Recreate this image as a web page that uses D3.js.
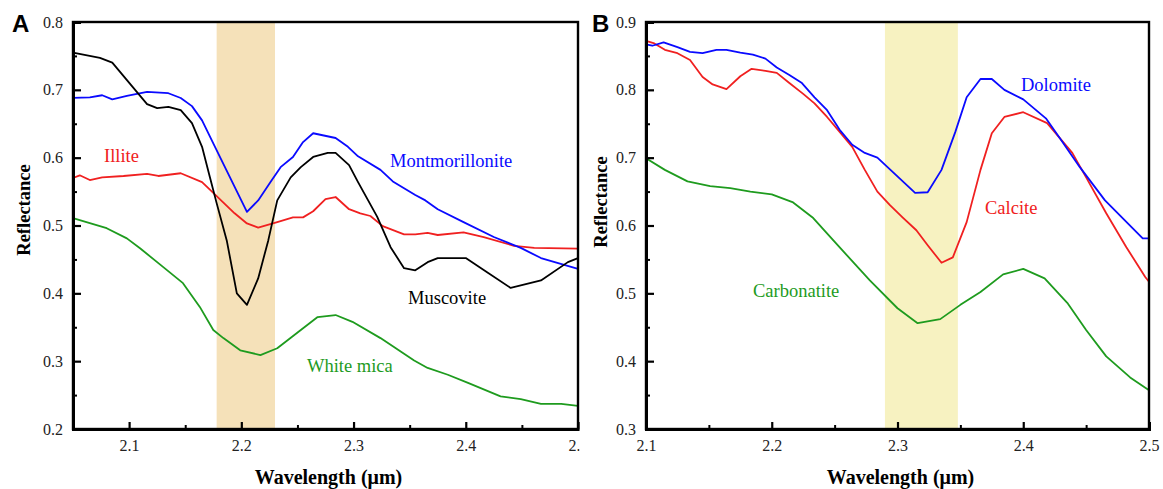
<!DOCTYPE html>
<html>
<head>
<meta charset="utf-8">
<script src="https://cdn.jsdelivr.net/npm/d3@7"></script>
<style>
  html, body { margin: 0; padding: 0; background: #fff; }
  svg { display: block; }
  text { font-family: "Liberation Serif", "Times New Roman", serif; }
  .tick text { font-family: "Liberation Serif", "Times New Roman", serif; font-size: 16px; fill: #222; }
</style>
</head>
<body>
<svg id="chart" width="1163" height="489"></svg>
<script>
// ---------- Panel A data ----------
const muscoviteX = [2.05,2.074,2.085,2.116,2.125,2.135,2.146,2.156,2.165,2.172,2.178,2.187,2.196,2.205,2.215,2.224,2.232,2.244,2.253,2.264,2.277,2.284,2.296,2.304,2.321,2.333,2.345,2.355,2.366,2.375,2.400,2.420,2.440,2.467,2.491,2.5];
const muscoviteY = [0.755,0.747,0.740,0.679,0.673,0.675,0.670,0.651,0.616,0.571,0.533,0.478,0.400,0.383,0.422,0.478,0.537,0.571,0.586,0.601,0.607,0.607,0.589,0.564,0.513,0.468,0.437,0.434,0.446,0.452,0.452,0.430,0.408,0.419,0.446,0.452];

const montX = [2.05,2.065,2.076,2.085,2.098,2.116,2.135,2.146,2.156,2.165,2.175,2.205,2.215,2.226,2.235,2.246,2.255,2.264,2.284,2.295,2.304,2.324,2.335,2.355,2.364,2.375,2.398,2.425,2.449,2.467,2.5];
const montY = [0.688,0.689,0.692,0.686,0.691,0.697,0.695,0.688,0.676,0.655,0.621,0.520,0.537,0.564,0.586,0.601,0.623,0.636,0.629,0.616,0.602,0.582,0.565,0.545,0.537,0.524,0.505,0.483,0.467,0.452,0.436];

const illiteX = [2.05,2.056,2.065,2.076,2.095,2.116,2.126,2.146,2.165,2.175,2.194,2.205,2.215,2.232,2.246,2.255,2.264,2.275,2.284,2.296,2.306,2.315,2.326,2.345,2.355,2.366,2.375,2.398,2.416,2.443,2.461,2.5];
const illiteY = [0.570,0.574,0.567,0.571,0.573,0.576,0.573,0.577,0.564,0.548,0.518,0.503,0.497,0.505,0.512,0.512,0.521,0.539,0.542,0.524,0.518,0.514,0.499,0.487,0.487,0.489,0.486,0.490,0.483,0.470,0.467,0.466];

const whiteMicaX = [2.05,2.080,2.098,2.110,2.128,2.148,2.163,2.175,2.184,2.199,2.217,2.232,2.253,2.268,2.284,2.299,2.324,2.354,2.366,2.384,2.402,2.431,2.449,2.467,2.485,2.5];
const whiteMicaY = [0.511,0.496,0.481,0.466,0.442,0.415,0.380,0.346,0.334,0.316,0.309,0.319,0.346,0.365,0.368,0.358,0.334,0.301,0.290,0.280,0.268,0.248,0.244,0.237,0.237,0.234];

// ---------- Panel B data ----------
const dolomiteX = [2.1,2.105,2.114,2.125,2.135,2.145,2.156,2.164,2.175,2.185,2.195,2.204,2.214,2.224,2.234,2.244,2.254,2.264,2.274,2.284,2.314,2.324,2.335,2.346,2.355,2.366,2.375,2.385,2.400,2.418,2.429,2.445,2.465,2.495,2.5];
const dolomiteY = [0.867,0.865,0.870,0.863,0.856,0.854,0.859,0.859,0.855,0.852,0.846,0.833,0.822,0.810,0.789,0.770,0.741,0.719,0.707,0.700,0.648,0.649,0.682,0.738,0.789,0.816,0.816,0.800,0.786,0.758,0.729,0.686,0.637,0.581,0.581];

const calciteX = [2.1,2.106,2.115,2.125,2.135,2.145,2.153,2.164,2.175,2.184,2.195,2.204,2.214,2.225,2.234,2.244,2.254,2.264,2.274,2.284,2.294,2.304,2.315,2.324,2.335,2.344,2.355,2.366,2.375,2.385,2.400,2.419,2.439,2.450,2.466,2.482,2.497,2.5];
const calciteY = [0.872,0.869,0.859,0.854,0.844,0.819,0.808,0.801,0.820,0.831,0.828,0.825,0.810,0.794,0.780,0.760,0.738,0.716,0.682,0.650,0.630,0.612,0.593,0.571,0.545,0.553,0.605,0.682,0.736,0.760,0.767,0.751,0.707,0.671,0.618,0.568,0.524,0.517];

const carbonatiteX = [2.1,2.115,2.133,2.151,2.167,2.183,2.2,2.217,2.233,2.249,2.278,2.3,2.316,2.334,2.35,2.366,2.384,2.400,2.417,2.435,2.450,2.466,2.485,2.5];
const carbonatiteY = [0.699,0.682,0.665,0.658,0.655,0.650,0.646,0.634,0.611,0.578,0.519,0.478,0.456,0.462,0.483,0.502,0.528,0.536,0.522,0.486,0.446,0.407,0.376,0.357];

// ---------- Axes ticks / bands ----------
const ticksAX = [2.1, 2.2, 2.3, 2.4, 2.5];
const minorAX = [2.15, 2.25, 2.35, 2.45];
const ticksAY = [0.2, 0.3, 0.4, 0.5, 0.6, 0.7, 0.8];
const minorAY = [0.25, 0.35, 0.45, 0.55, 0.65, 0.75];
const ticksBX = [2.1, 2.2, 2.3, 2.4, 2.5];
const minorBX = [2.15, 2.25, 2.35, 2.45];
const ticksBY = [0.3, 0.4, 0.5, 0.6, 0.7, 0.8, 0.9];
const minorBY = [0.35, 0.45, 0.55, 0.65, 0.75, 0.85];
const bandA = [2.178, 2.23];
const bandB = [2.29, 2.348];

const C = { black: "#000000", blue: "#0a0aff", red: "#f02020", green: "#1e9b1e" };

const svg = d3.select("#chart");
const serif = '"Liberation Serif", "Times New Roman", serif';

function panel(opts) {
  const { x0, x1, y0, y1, xDom, yDom, xt, xm, yt, ym, band, bandColor, series, labels, letter, letterX, ylabX, ylabY, clipLast } = opts;
  const x = d3.scaleLinear().domain(xDom).range([x0, x1]);
  const y = d3.scaleLinear().domain(yDom).range([y1, y0]);
  const g = svg.append("g");

  // band
  g.append("rect")
    .attr("x", x(band[0])).attr("y", y0)
    .attr("width", x(band[1]) - x(band[0])).attr("height", y1 - y0)
    .attr("fill", bandColor);

  // lines
  const line = d3.line().x(d => x(d[0])).y(d => y(d[1]));
  series.forEach(s => {
    const pts = s.xs.map((v, i) => [v, s.ys[i]]);
    g.append("path").datum(pts)
      .attr("d", line).attr("fill", "none")
      .attr("stroke", s.color).attr("stroke-width", 1.8)
      .attr("stroke-linejoin", "round");
  });

  // frame
  g.append("rect").attr("x", x0).attr("y", y0)
    .attr("width", x1 - x0).attr("height", y1 - y0)
    .attr("fill", "none").attr("stroke", "#000").attr("stroke-width", 2.4);

  // bottom axis (ticks inward)
  const xAxis = d3.axisBottom(x).tickValues(xt).tickSize(-7).tickPadding(11)
    .tickFormat(d3.format(".1f"));
  const xg = g.append("g").attr("transform", `translate(0,${y1})`).call(xAxis);
  xg.select(".domain").attr("stroke-width", 3);
  xg.selectAll(".tick line").attr("stroke-width", 2.2);
  const xmg = g.append("g").attr("transform", `translate(0,${y1})`)
    .call(d3.axisBottom(x).tickValues(xm).tickSize(-4).tickFormat(""));
  xmg.select(".domain").remove();
  xmg.selectAll(".tick line").attr("stroke-width", 2);
  if (clipLast) {
    const id = "clip" + letter;
    svg.append("clipPath").attr("id", id).attr("clipPathUnits", "userSpaceOnUse")
      .append("rect")
      .attr("x", 0).attr("y", -30).attr("width", x1 + 1.5).attr("height", 100);
    xg.attr("clip-path", `url(#${id})`);
  }

  // left axis
  const yAxis = d3.axisLeft(y).tickValues(yt).tickSize(-8).tickPadding(10)
    .tickFormat(d3.format(".1f"));
  const yg = g.append("g").attr("transform", `translate(${x0},0)`).call(yAxis);
  yg.select(".domain").attr("stroke-width", 3);
  yg.selectAll(".tick line").attr("stroke-width", 2.2);
  const ymg = g.append("g").attr("transform", `translate(${x0},0)`)
    .call(d3.axisLeft(y).tickValues(ym).tickSize(-4).tickFormat(""));
  ymg.select(".domain").remove();
  ymg.selectAll(".tick line").attr("stroke-width", 2);

  g.selectAll("g").attr("font-family", serif);
  g.selectAll(".tick text").attr("font-family", serif).attr("font-size", 16.5).attr("fill", "#222");

  // series labels
  labels.forEach(l => {
    g.append("text").attr("x", l.x).attr("y", l.y)
      .attr("font-family", serif).attr("font-size", 18.5)
      .attr("fill", l.color).text(l.text);
  });

  // axis titles
  g.append("text").attr("x", (x0 + x1) / 2 + 3).attr("y", 484)
    .attr("text-anchor", "middle").attr("font-family", serif)
    .attr("font-weight", "bold").attr("font-size", 20).text("Wavelength (μm)");
  g.append("text").attr("transform", `translate(${ylabX},${ylabY}) rotate(-90)`)
    .attr("text-anchor", "middle").attr("dy", "0.35em").attr("font-family", serif)
    .attr("font-weight", "bold").attr("font-size", 18.5).text("Reflectance");

  // panel letter
  g.append("text").attr("x", letterX).attr("y", 32)
    .style("font-family", '"Liberation Sans", Arial, sans-serif')
    .attr("font-weight", "bold").attr("font-size", 24).text(letter);
}

panel({
  x0: 73, x1: 578, y0: 22, y1: 429,
  xDom: [2.05, 2.5], yDom: [0.2, 0.8],
  xt: ticksAX, xm: minorAX, yt: ticksAY, ym: minorAY,
  band: bandA, bandColor: "#f5e1b9",
  series: [
    { xs: illiteX, ys: illiteY, color: C.red },
    { xs: whiteMicaX, ys: whiteMicaY, color: C.green },
    { xs: montX, ys: montY, color: C.blue },
    { xs: muscoviteX, ys: muscoviteY, color: C.black }
  ],
  labels: [
    { text: "Illite", x: 104, y: 162, color: C.red },
    { text: "Montmorillonite", x: 390, y: 167, color: C.blue },
    { text: "Muscovite", x: 408, y: 304, color: C.black },
    { text: "White mica", x: 307, y: 372, color: C.green }
  ],
  letter: "A", letterX: 12, ylabX: 24, ylabY: 210, clipLast: true
});

panel({
  x0: 646, x1: 1149, y0: 22, y1: 429,
  xDom: [2.1, 2.5], yDom: [0.3, 0.9],
  xt: ticksBX, xm: minorBX, yt: ticksBY, ym: minorBY,
  band: bandB, bandColor: "#f7f2c1",
  series: [
    { xs: carbonatiteX, ys: carbonatiteY, color: C.green },
    { xs: calciteX, ys: calciteY, color: C.red },
    { xs: dolomiteX, ys: dolomiteY, color: C.blue }
  ],
  labels: [
    { text: "Dolomite", x: 1021, y: 91, color: C.blue },
    { text: "Calcite", x: 985, y: 214, color: C.red },
    { text: "Carbonatite", x: 753, y: 297, color: C.green }
  ],
  letter: "B", letterX: 592, ylabX: 601, ylabY: 202, clipLast: false
});
</script>
</body>
</html>
